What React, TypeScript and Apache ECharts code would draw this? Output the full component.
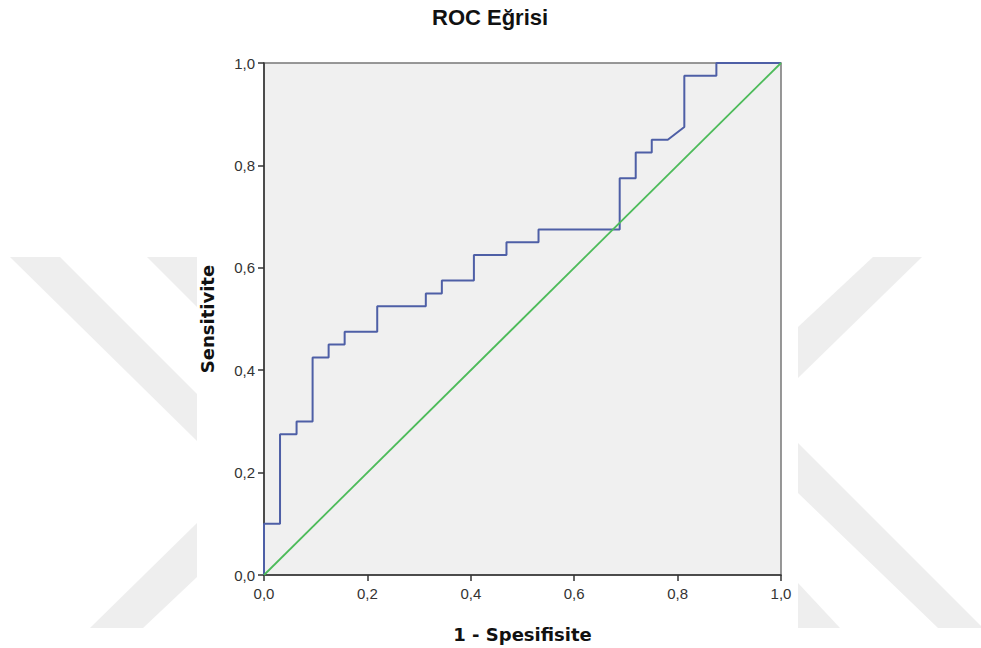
import React, { useEffect, useRef } from "react";
import * as echarts from "echarts";

// ROC curve vertices (1 - specificity, sensitivity)
const fpr = [
  0, 0, 0.031, 0.031, 0.063, 0.063, 0.094, 0.094, 0.125, 0.125, 0.156, 0.156,
  0.219, 0.219, 0.313, 0.313, 0.344, 0.344, 0.406, 0.406, 0.469, 0.469, 0.531,
  0.531, 0.688, 0.688, 0.719, 0.719, 0.75, 0.75, 0.781, 0.813, 0.813, 0.875,
  0.875, 1,
];
const tpr = [
  0, 0.1, 0.1, 0.275, 0.275, 0.3, 0.3, 0.425, 0.425, 0.45, 0.45, 0.475, 0.475,
  0.525, 0.525, 0.55, 0.55, 0.575, 0.575, 0.625, 0.625, 0.65, 0.65, 0.675,
  0.675, 0.775, 0.775, 0.825, 0.825, 0.85, 0.85, 0.875, 0.975, 0.975, 1, 1,
];
// reference diagonal
const refX = [0, 1];
const refY = [0, 1];

const titleText = "ROC Eğrisi";
const xName = "1 - Spesifisite";
const yName = "Sensitivite";

const fmt = (v: number) => v.toFixed(1).replace(".", ",");

const wmColor = "#eeeeee";
const wmShapes: number[][][] = [
  [[10, 257], [60, 257], [197, 394], [197, 441]],
  [[147, 257], [197, 257], [197, 307]],
  [[90, 628], [143, 628], [197, 577], [197, 523]],
  [[873, 257], [922, 257], [798, 378], [798, 327]],
  [[798, 443], [983, 628], [938, 628], [798, 493]],
  [[798, 583], [798, 628], [840, 628]],
];

export default function App() {
  const ref = useRef<HTMLDivElement>(null);
  useEffect(() => {
    if (!ref.current) return;
    const chart = echarts.init(ref.current, undefined, { renderer: "svg" });
    const labelStyle = {
      fontFamily: "Liberation Sans",
      fontSize: 15,
      color: "#333",
      formatter: (v: number) => fmt(v),
    };
    const nameStyle = {
      fontFamily: "DejaVu Sans",
      fontWeight: "bold" as const,
      fontSize: 18,
      color: "#111",
    };
    chart.setOption({
      animation: false,
      backgroundColor: "#ffffff",
      title: {
        text: titleText,
        left: 427,
        top: 1,
        textStyle: {
          fontFamily: "Liberation Sans",
          fontWeight: "bold",
          fontSize: 22,
          color: "#111",
        },
      },
      graphic: wmShapes.map((pts) => ({
        type: "polygon",
        silent: true,
        z: -10,
        shape: { points: pts },
        style: { fill: wmColor },
      })),
      grid: {
        left: 264,
        right: 200,
        top: 63,
        bottom: 70,
        show: true,
        backgroundColor: "#f0f0f0",
        borderColor: "#777",
        borderWidth: 1.5,
      },
      xAxis: {
        type: "value",
        min: 0,
        max: 1,
        interval: 0.2,
        splitLine: { show: false },
        axisLine: { show: true, lineStyle: { color: "#333", width: 1.5 } },
        axisTick: { show: true, length: 6, lineStyle: { color: "#333", width: 1.5 } },
        axisLabel: { ...labelStyle, margin: 11 },
        name: xName,
        nameLocation: "middle",
        nameGap: 50,
        nameTextStyle: nameStyle,
      },
      yAxis: {
        type: "value",
        min: 0,
        max: 1,
        interval: 0.2,
        splitLine: { show: false },
        axisLine: { show: true, lineStyle: { color: "#333", width: 1.5 } },
        axisTick: { show: true, length: 6, lineStyle: { color: "#333", width: 1.5 } },
        axisLabel: { ...labelStyle, margin: 9 },
        name: yName,
        nameLocation: "middle",
        nameGap: 48,
        nameRotate: 90,
        nameTextStyle: nameStyle,
      },
      series: [
        {
          type: "line",
          data: refX.map((x, i) => [x, refY[i]]),
          showSymbol: false,
          symbol: "none",
          lineStyle: { color: "#4dbb5a", width: 1.8 },
          z: 3,
        },
        {
          type: "line",
          data: fpr.map((x, i) => [x, tpr[i]]),
          showSymbol: false,
          symbol: "none",
          lineStyle: { color: "#4e5fa6", width: 2 },
          z: 2,
        },
      ],
    });
    return () => chart.dispose();
  }, []);
  return (
    <div
      ref={ref}
      style={{ position: "absolute", left: 0, top: 0, width: 981, height: 648 }}
    />
  );
}
